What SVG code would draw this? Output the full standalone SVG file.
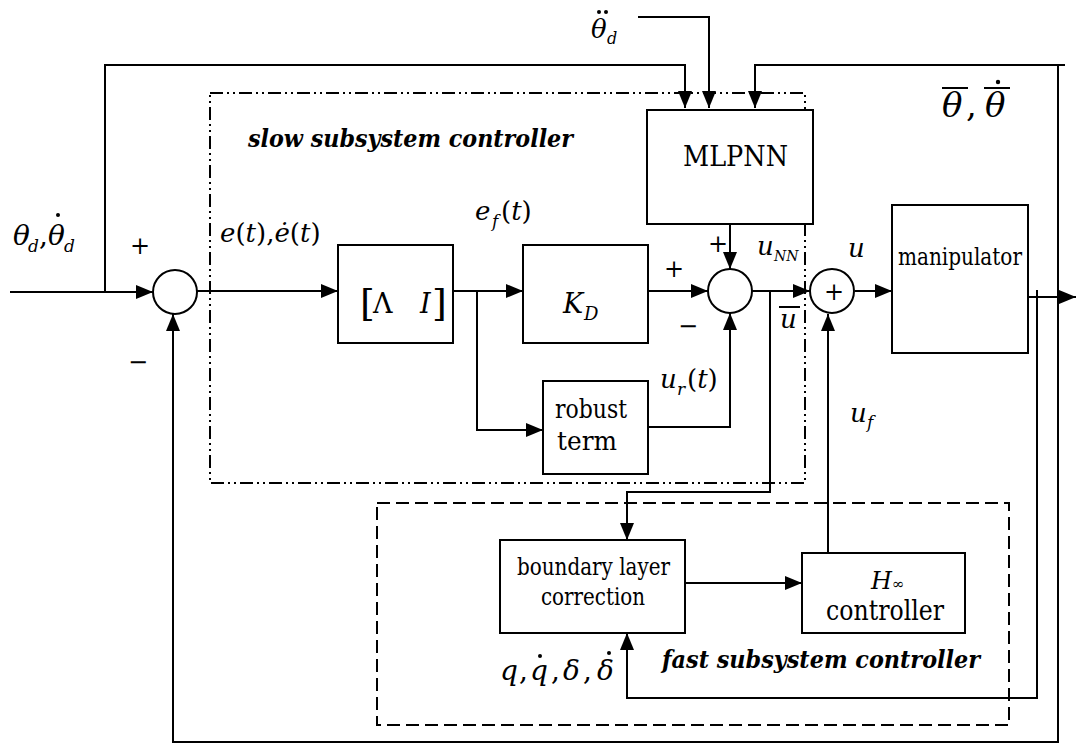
<svg xmlns="http://www.w3.org/2000/svg" width="1077" height="744" viewBox="0 0 1077 744">
<style>
.ln{fill:none;stroke:#000;stroke-width:2}
.box{fill:#fff;stroke:#000;stroke-width:2}
text{font-family:'DejaVu Serif',serif;fill:#000}
.i{font-style:italic}
.bi{font-style:italic;font-weight:bold}
.slow{fill:none;stroke:#000;stroke-width:2;stroke-dasharray:13 4 2 4 2 4}
.fast{fill:none;stroke:#000;stroke-width:2;stroke-dasharray:13 6}
</style>
<defs>
<marker id="ah" markerWidth="17" markerHeight="14" refX="17" refY="7" orient="auto" markerUnits="userSpaceOnUse">
<path d="M0,0 L17,7 L0,14 z" fill="#000"/>
</marker>
</defs>
<rect width="1077" height="744" fill="#fff"/>

<g id="slow-box"><rect class="slow" x="210" y="93" width="595" height="390"/>
<text class="bi" x="248" y="147" font-size="25" textLength="325" lengthAdjust="spacingAndGlyphs">slow subsystem controller</text></g>
<g id="fast-box"><rect class="fast" x="377" y="503" width="632" height="222"/>
<text class="bi" x="662" y="668" font-size="25" textLength="318" lengthAdjust="spacingAndGlyphs">fast subsystem controller</text></g>

<g id="connectors" class="ln" marker-end="url(#ah)">
<path d="M10,292 H153"/>
<path d="M105,292 V65 H685 V108" />
<path d="M638,17 H709 V108"/>
<path d="M1065,65 H755 V108"/>
<path d="M1058,65 V742 H173 V314"/>
<path d="M197,291 H338"/>
<path d="M453,291 H523"/>
<path d="M477,291 V430 H543"/>
<path d="M648,291 H708"/>
<path d="M648,427 H730 V313"/>
<path d="M730,224 V269"/>
<path d="M752,291 H810"/>
<path d="M770,291 V492 H627 V540"/>
<path d="M685,583 H802"/>
<path d="M828,553 V314"/>
<path d="M855,291 H892"/>
<path d="M1028,297 H1076"/>
<path d="M1037,290 V698 H627 V633"/>
</g>

<g id="sum1"><circle class="box" cx="175" cy="292" r="22"/></g>
<g id="sum2"><circle class="box" cx="730" cy="291" r="22"/></g>
<g id="sum3"><circle class="box" cx="832" cy="291" r="22"/>
<text x="834" y="300" font-size="24" text-anchor="middle">+</text></g>

<g id="lambda"><rect class="box" x="338" y="245" width="115" height="98"/>
<text x="360" y="316" font-size="38">[</text>
<text x="373" y="313" font-size="27">Λ</text>
<text class="i" x="420" y="313" font-size="27">I</text>
<text x="432" y="316" font-size="38">]</text></g>

<g id="kd"><rect class="box" x="523" y="245" width="125" height="98"/>
<text class="i" x="563" y="313" font-size="27">K</text>
<text class="i" x="584" y="320" font-size="18">D</text></g>

<g id="robust"><rect class="box" x="543" y="381" width="105" height="93"/>
<text x="555" y="418" font-size="26" textLength="72" lengthAdjust="spacingAndGlyphs">robust</text>
<text x="557" y="450" font-size="26" textLength="60" lengthAdjust="spacingAndGlyphs">term</text></g>

<g id="mlpnn"><rect class="box" x="647" y="110" width="166" height="114"/>
<text x="683" y="166" font-size="27" textLength="105" lengthAdjust="spacingAndGlyphs">MLPNN</text></g>

<g id="manipulator"><rect class="box" x="892" y="205" width="136" height="148"/>
<text x="898" y="265" font-size="24" textLength="124" lengthAdjust="spacingAndGlyphs">manipulator</text></g>

<g id="boundary"><rect class="box" x="500" y="540" width="185" height="93"/>
<text x="517" y="575" font-size="24" textLength="153" lengthAdjust="spacingAndGlyphs">boundary layer</text>
<text x="541" y="605" font-size="24" textLength="104" lengthAdjust="spacingAndGlyphs">correction</text></g>

<g id="hinf"><rect class="box" x="802" y="553" width="163" height="80"/>
<text class="i" x="871" y="589" font-size="24">H</text>
<text x="892" y="589" font-size="15">∞</text>
<text x="826" y="620" font-size="27" textLength="118" lengthAdjust="spacingAndGlyphs">controller</text></g>

<g id="labels">
<text x="13" y="245" font-size="28" class="i">θ</text>
<text x="28" y="252" font-size="17" class="i">d</text>
<text x="39" y="245" font-size="28">,</text>
<text x="48" y="245" font-size="28" class="i">θ</text>
<circle cx="58" cy="215" r="2"/>
<text x="64" y="252" font-size="17" class="i">d</text>

<text x="130" y="254" font-size="24">+</text>
<text x="128" y="370" font-size="24">−</text>

<text x="220" y="242" font-size="26"><tspan class="i">e</tspan>(<tspan class="i">t</tspan>),<tspan class="i">ė</tspan>(<tspan class="i">t</tspan>)</text>
<text x="475" y="220" font-size="26" class="i">e</text>
<text x="492" y="227" font-size="17" class="i">f</text>
<text x="501" y="220" font-size="26">(<tspan class="i">t</tspan>)</text>

<text x="591" y="38" font-size="26" class="i">θ</text>
<circle cx="599" cy="12" r="2"/><circle cx="606" cy="12" r="2"/>
<text x="607" y="44" font-size="16" class="i">d</text>

<text x="942" y="117" font-size="34" class="i">θ</text>
<line x1="942" y1="88" x2="968" y2="88" stroke="#000" stroke-width="2"/>
<text x="966" y="117" font-size="34">,</text>
<text x="985" y="117" font-size="34" class="i">θ</text>
<line x1="984" y1="88" x2="1010" y2="88" stroke="#000" stroke-width="2"/>
<circle cx="998" cy="82" r="2.2"/>

<text x="664" y="277" font-size="24">+</text>
<text x="708" y="252" font-size="24">+</text>
<text x="678" y="334" font-size="24">−</text>

<text x="660" y="388" font-size="26" class="i">u</text>
<text x="677" y="395" font-size="17" class="i">r</text>
<text x="687" y="388" font-size="26">(<tspan class="i">t</tspan>)</text>

<text x="757" y="255" font-size="26" class="i">u</text>
<text x="774" y="261" font-size="14" class="i">NN</text>
<text x="848" y="257" font-size="26" class="i">u</text>
<text x="780" y="328" font-size="26" class="i">u</text>
<line x1="779" y1="307" x2="800" y2="307" stroke="#000" stroke-width="2"/>
<text x="850" y="422" font-size="26" class="i">u</text>
<text x="867" y="428" font-size="17" class="i">f</text>

<text x="500" y="680" font-size="28" class="i">q</text>
<text x="519" y="680" font-size="28">,</text>
<text x="530" y="680" font-size="28" class="i">q</text>
<circle cx="540" cy="656" r="2"/>
<text x="551" y="680" font-size="28">,</text>
<text x="563" y="680" font-size="28" class="i">δ</text>
<text x="583" y="680" font-size="28">,</text>
<text x="597" y="680" font-size="28" class="i">δ</text>
<circle cx="609" cy="653" r="2"/>
</g>
</svg>
